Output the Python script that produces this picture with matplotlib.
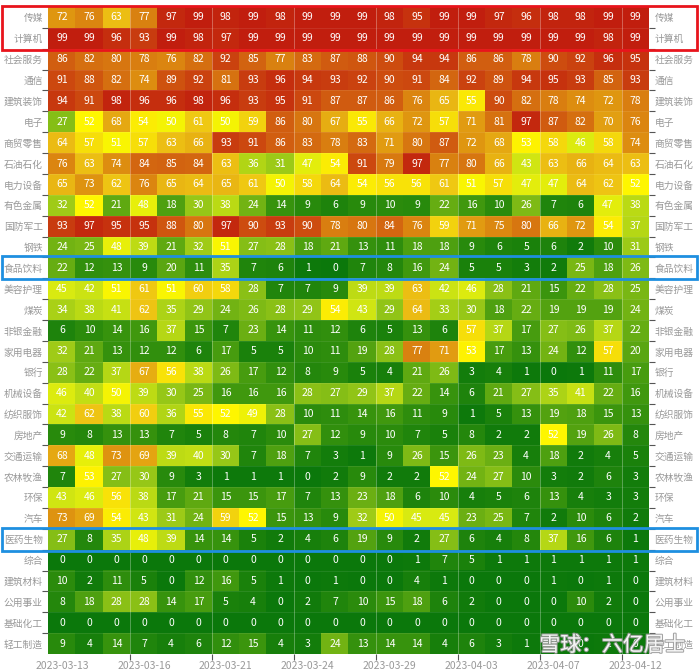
import numpy as np
import matplotlib.pyplot as plt
from matplotlib.colors import LinearSegmentedColormap
from matplotlib.patches import Rectangle
import matplotlib.patheffects as pe

plt.rcParams['font.family'] = ['Noto Sans CJK SC', 'DejaVu Sans']

industries = ['传媒', '计算机', '社会服务', '通信', '建筑装饰', '电子', '商贸零售', '石油石化',
              '电力设备', '有色金属', '国防军工', '钢铁', '食品饮料', '美容护理', '煤炭', '非银金融',
              '家用电器', '银行', '机械设备', '纺织服饰', '房地产', '交通运输', '农林牧渔', '环保',
              '汽车', '医药生物', '综合', '建筑材料', '公用事业', '基础化工', '轻工制造']

dates = ['2023-03-13', '2023-03-14', '2023-03-15', '2023-03-16', '2023-03-17', '2023-03-20',
         '2023-03-21', '2023-03-22', '2023-03-23', '2023-03-24', '2023-03-27', '2023-03-28',
         '2023-03-29', '2023-03-30', '2023-03-31', '2023-04-03', '2023-04-04', '2023-04-06',
         '2023-04-07', '2023-04-10', '2023-04-11', '2023-04-12']

# one row per industry, one value per trading day
values = [
    [72, 76, 63, 77, 97, 99, 98, 99, 98, 99, 99, 99, 98, 95, 99, 99, 97, 96, 98, 98, 99, 99],
    [99, 99, 96, 93, 99, 98, 97, 99, 99, 99, 99, 99, 99, 99, 99, 99, 99, 99, 99, 99, 98, 99],
    [86, 82, 80, 78, 76, 82, 92, 85, 77, 83, 87, 88, 90, 94, 94, 86, 86, 78, 90, 92, 96, 95],
    [91, 88, 82, 74, 89, 92, 81, 93, 96, 94, 93, 92, 90, 91, 84, 92, 89, 94, 95, 93, 85, 93],
    [94, 91, 98, 96, 96, 98, 96, 93, 95, 91, 87, 87, 86, 76, 65, 55, 90, 82, 78, 74, 72, 78],
    [27, 52, 68, 54, 50, 61, 50, 59, 86, 80, 67, 55, 66, 72, 57, 71, 81, 97, 87, 82, 70, 76],
    [64, 57, 51, 57, 63, 66, 93, 91, 86, 83, 78, 83, 71, 80, 87, 72, 68, 53, 58, 46, 58, 74],
    [76, 63, 74, 84, 85, 84, 63, 36, 31, 47, 54, 91, 79, 97, 77, 80, 66, 43, 63, 66, 64, 63],
    [65, 73, 62, 76, 65, 64, 65, 61, 50, 58, 64, 54, 56, 56, 61, 51, 57, 47, 47, 64, 62, 52],
    [32, 52, 21, 48, 18, 30, 38, 24, 14, 9, 6, 9, 10, 9, 22, 16, 10, 26, 7, 6, 47, 38],
    [93, 97, 95, 95, 88, 80, 97, 90, 93, 90, 78, 80, 84, 76, 59, 71, 75, 80, 66, 72, 54, 37],
    [24, 25, 48, 39, 21, 32, 51, 27, 28, 18, 21, 13, 11, 18, 18, 9, 6, 5, 6, 2, 10, 31],
    [22, 12, 13, 9, 20, 11, 35, 7, 6, 1, 0, 7, 8, 16, 24, 5, 5, 3, 2, 25, 18, 26],
    [45, 42, 51, 61, 51, 60, 58, 28, 7, 7, 9, 39, 39, 63, 42, 46, 28, 21, 15, 22, 28, 25],
    [34, 38, 41, 62, 35, 29, 24, 26, 28, 29, 54, 43, 29, 64, 33, 30, 18, 22, 19, 19, 19, 24],
    [6, 10, 14, 16, 37, 15, 7, 23, 14, 11, 12, 6, 5, 13, 6, 57, 37, 17, 27, 26, 37, 22],
    [32, 21, 13, 12, 12, 6, 17, 5, 5, 10, 11, 19, 28, 77, 71, 53, 17, 13, 24, 12, 57, 20],
    [28, 22, 37, 67, 56, 38, 26, 17, 12, 8, 9, 5, 4, 21, 26, 3, 4, 1, 0, 1, 11, 17],
    [46, 40, 50, 39, 30, 25, 16, 16, 16, 28, 27, 29, 37, 22, 14, 6, 21, 27, 35, 41, 22, 16],
    [42, 62, 38, 60, 36, 55, 52, 49, 28, 10, 11, 14, 16, 11, 9, 1, 5, 13, 19, 18, 15, 13],
    [9, 8, 13, 13, 7, 5, 8, 7, 10, 27, 12, 9, 10, 7, 5, 8, 2, 2, 52, 19, 26, 8],
    [68, 48, 73, 69, 39, 40, 30, 7, 18, 7, 3, 1, 9, 26, 15, 26, 23, 4, 18, 2, 4, 5],
    [7, 53, 27, 30, 9, 3, 1, 1, 1, 0, 2, 9, 2, 2, 52, 24, 27, 10, 3, 2, 6, 3],
    [43, 46, 56, 38, 17, 21, 15, 15, 17, 7, 13, 23, 18, 6, 10, 4, 5, 6, 13, 4, 3, 3],
    [73, 69, 54, 43, 31, 24, 59, 52, 15, 13, 9, 32, 50, 45, 45, 23, 25, 7, 2, 10, 6, 2],
    [27, 8, 35, 48, 39, 14, 14, 5, 2, 4, 6, 19, 9, 2, 27, 6, 4, 8, 37, 16, 6, 1],
    [0, 0, 0, 0, 0, 0, 0, 0, 0, 0, 0, 0, 0, 1, 7, 5, 1, 1, 1, 1, 1, 1],
    [10, 2, 11, 5, 0, 12, 16, 5, 1, 0, 1, 0, 0, 4, 1, 0, 0, 0, 1, 0, 1, 0],
    [8, 18, 28, 28, 14, 17, 5, 4, 0, 2, 7, 10, 15, 18, 6, 2, 0, 0, 0, 10, 2, 0],
    [0, 0, 0, 0, 0, 0, 0, 0, 0, 0, 0, 0, 0, 0, 0, 0, 0, 0, 0, 0, 0, 0],
    [9, 4, 14, 7, 4, 6, 12, 15, 4, 3, 24, 13, 14, 14, 4, 6, 3, 1, 1, 0, 1, 0],
]

red_rows = ['传媒', '计算机']
blue_rows = ['食品饮料', '医药生物']

stops = [(0.00, '#0b780b'), (0.15, '#3c960e'), (0.30, '#98c818'), (0.45, '#d8ea12'),
         (0.52, '#fff700'), (0.62, '#eec414'), (0.75, '#dc8a10'), (0.88, '#d05810'),
         (1.00, '#c01a0e')]
cmap = LinearSegmentedColormap.from_list('heat', stops)

W, H = 700, 672
left, right, top, bottom = 48.4, 649, 7, 654

fig = plt.figure(figsize=(W / 100, H / 100), dpi=100)
ax = fig.add_axes([left / W, 1 - bottom / H, (right - left) / W, (bottom - top) / H])

data = np.array(values)
nrow, ncol = data.shape
ax.imshow(data, cmap=cmap, vmin=0, vmax=100, aspect='auto', interpolation='nearest')

for i in range(nrow):
    for j in range(ncol):
        ax.text(j, i, str(data[i, j]), ha='center', va='center', color='white', fontsize=7.5)

# faint cell borders
for y in np.arange(0.5, nrow - 1, 1):
    ax.axhline(y, color='white', lw=0.5, alpha=0.12)
for x in np.arange(2.5, ncol, 3):
    ax.axvline(x, color='white', lw=0.7, alpha=0.3)

for s in ax.spines.values():
    s.set_visible(False)

ax.set_yticks(range(nrow))
ax.set_yticklabels(industries)
ax.set_yticks(np.arange(-0.5, nrow, 1)[1:-1], minor=True)
ax.tick_params(axis='y', which='major', length=0, labelsize=7, labelcolor='#999999',
               labelleft=True, labelright=True, pad=4)
ax.tick_params(axis='y', which='minor', length=4, color='#555555', width=0.8,
               left=True, right=True)

xt = list(range(0, ncol, 3))
ax.set_xticks(xt)
ax.set_xticklabels([dates[k] for k in xt])
ax.set_xticks(np.arange(2.5, ncol, 3), minor=True)
ax.tick_params(axis='x', which='major', length=0, labelsize=7.5, labelcolor='#999999', pad=5)
ax.tick_params(axis='x', which='minor', length=4, color='#555555', width=0.8)

rowh = (bottom - top) / nrow

r0 = min(industries.index(n) for n in red_rows)
r1 = max(industries.index(n) for n in red_rows) + 1
y0, y1 = top + r0 * rowh, top + r1 * rowh
fig.add_artist(Rectangle((2 / W, 1 - (y1 + 1) / H), 695 / W, (y1 - y0 + 2) / H,
                         transform=fig.transFigure, fill=False, ec='#e8141c', lw=2))
for n in blue_rows:
    r = industries.index(n)
    y0, y1 = top + r * rowh, top + (r + 1) * rowh
    fig.add_artist(Rectangle((2 / W, 1 - (y1 + 1) / H), 695 / W, (y1 - y0 + 2) / H,
                             transform=fig.transFigure, fill=False, ec='#1e8fe0', lw=2))

fig.text(0.875, 0.04, '雪球：六亿居士', fontsize=15, color='white', alpha=0.9,
         ha='center', va='center',
         path_effects=[pe.withStroke(linewidth=1.5, foreground='#999999')])

fig.savefig('out.png', dpi=100)
